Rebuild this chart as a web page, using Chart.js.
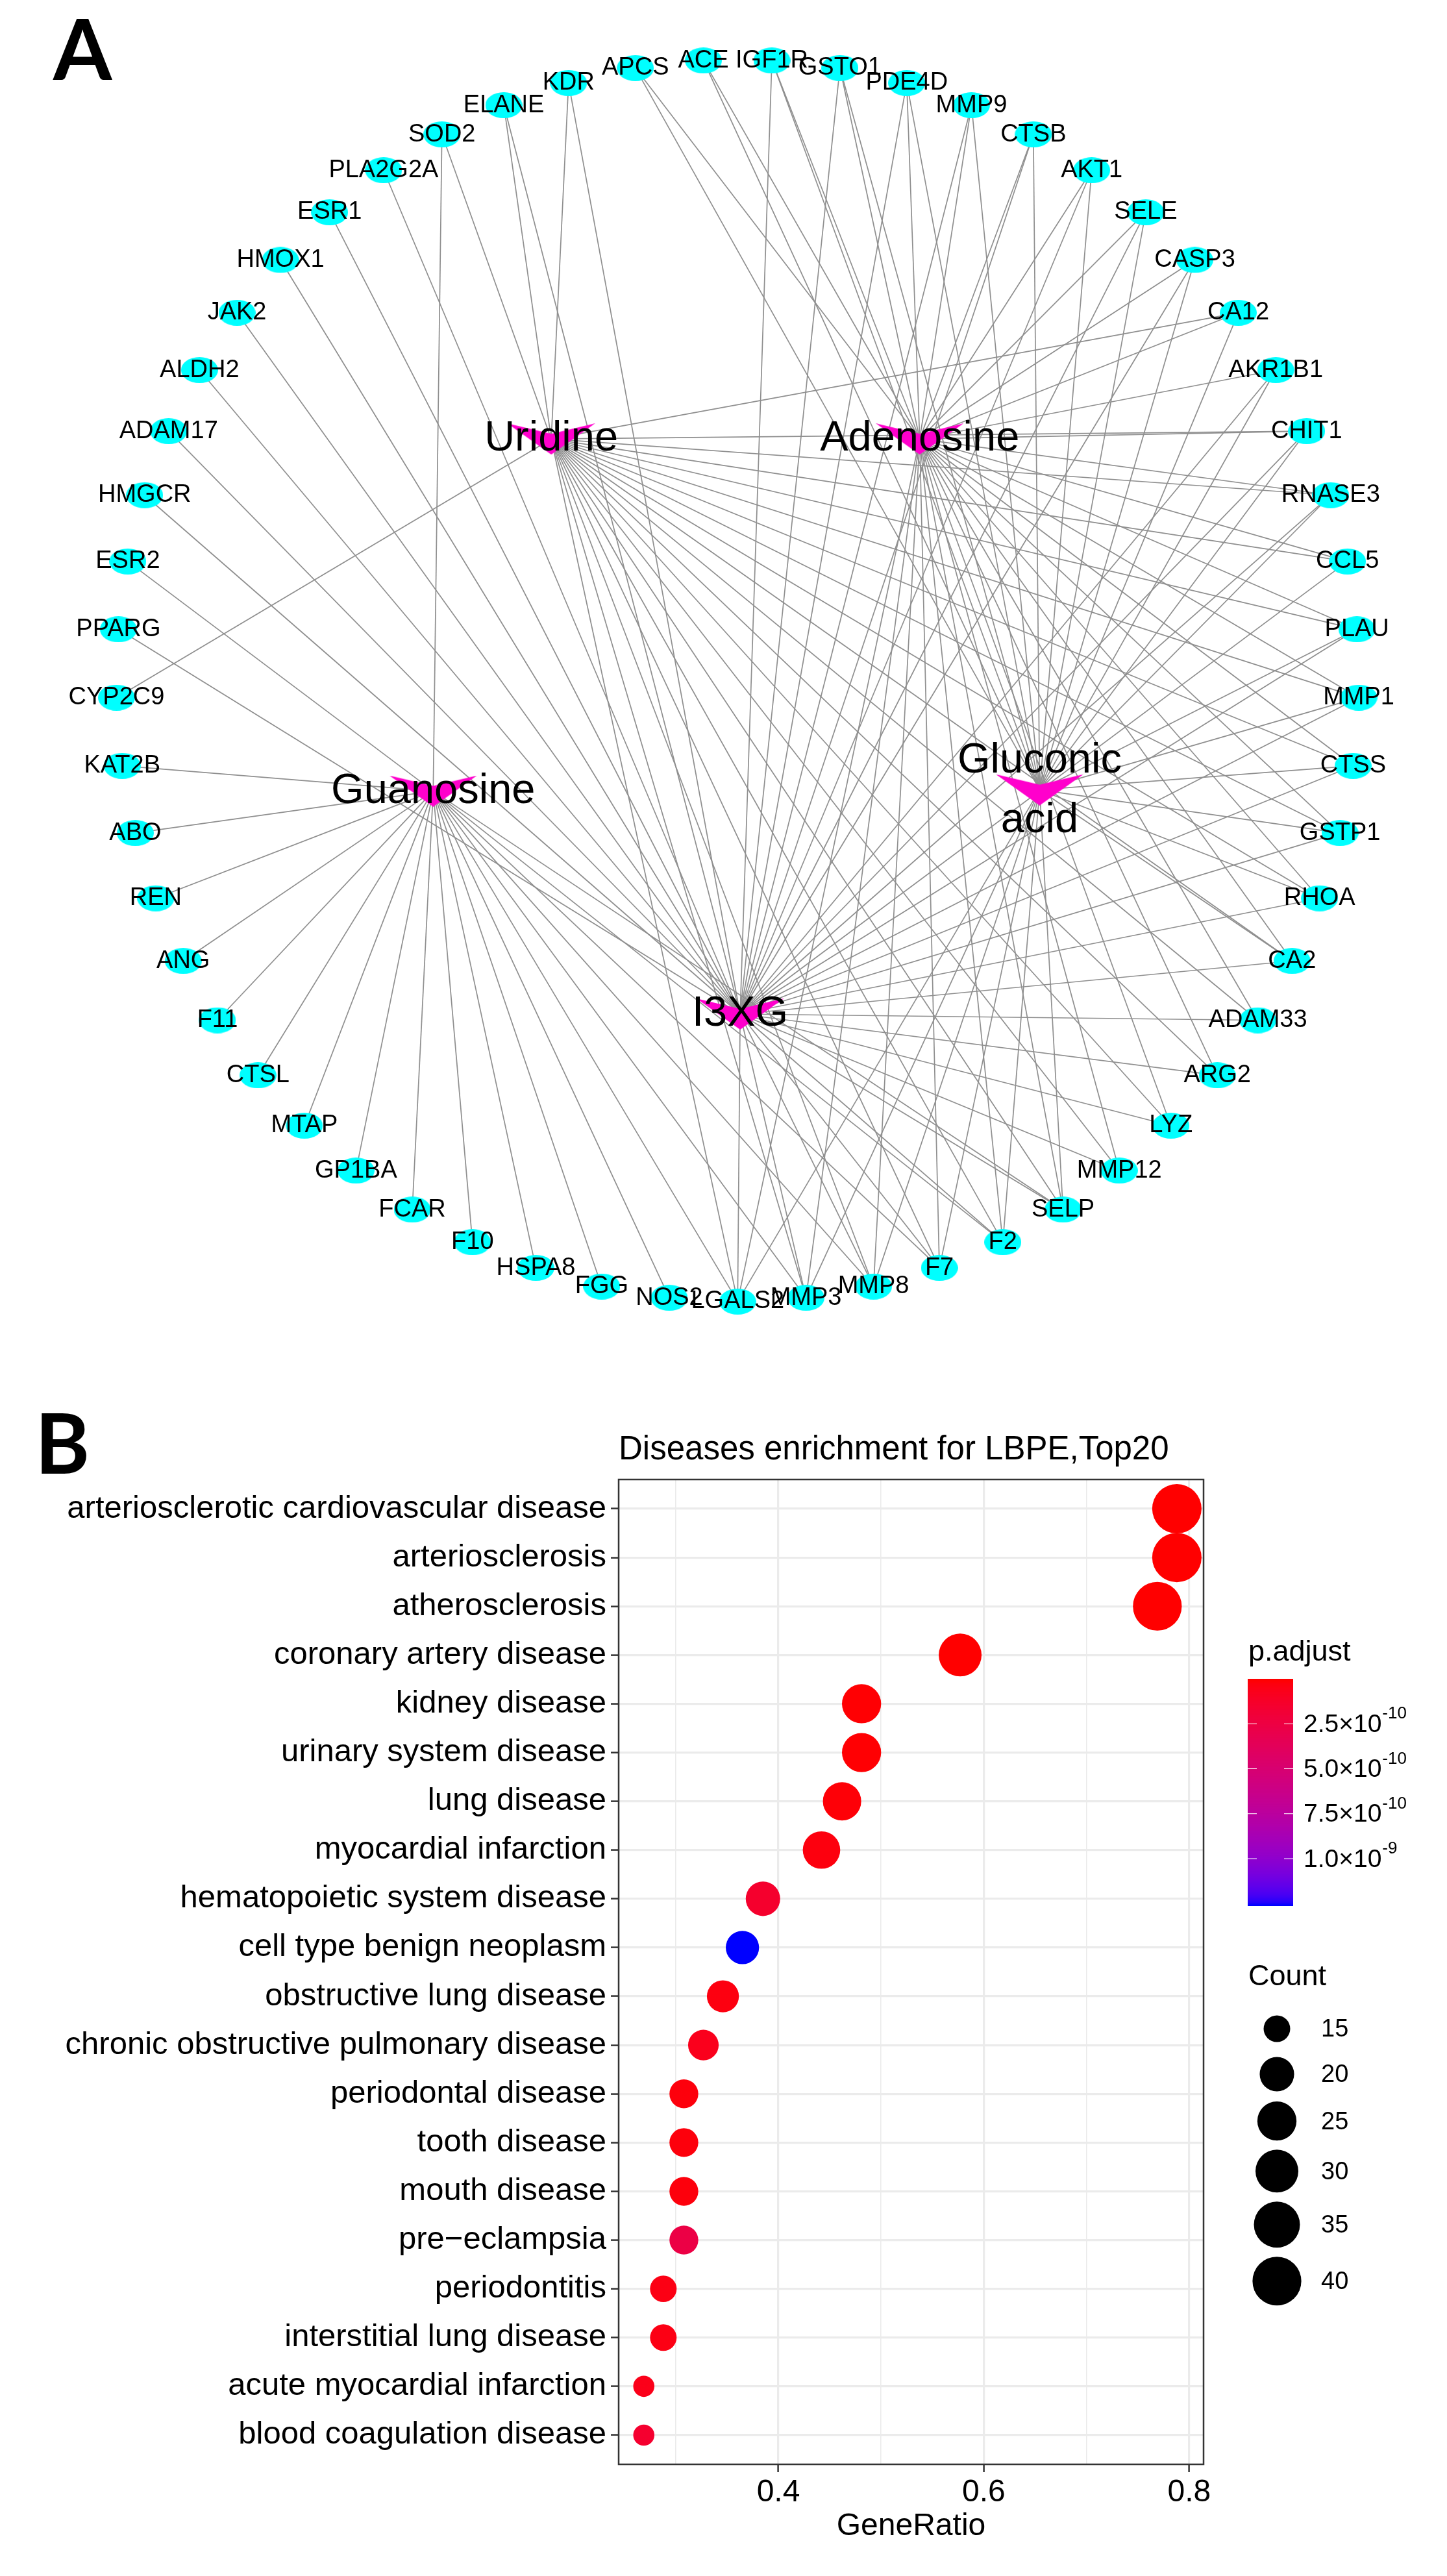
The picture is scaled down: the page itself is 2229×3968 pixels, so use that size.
<!DOCTYPE html>
<html>
<head>
<meta charset="utf-8">
<script src="https://cdn.jsdelivr.net/npm/chart.js@4.4.1/dist/chart.umd.min.js"></script>
<style>
  html, body { margin: 0; background: #fff; }
  #netChart { position: absolute; left: 0; top: 0; }
  #dotChart { position: absolute; left: 0; top: 2100px; }
</style>
</head>
<body>
<canvas id="netChart" width="2229" height="2100"></canvas>
<canvas id="dotChart" width="2229" height="1868"></canvas>
<script>
// ---------- Panel A : compound - target network ----------
// targets in circle order, clockwise from the top
const targets = ["ACE","IGF1R","GSTO1","PDE4D","MMP9","CTSB","AKT1","SELE","CASP3","CA12",
  "AKR1B1","CHIT1","RNASE3","CCL5","PLAU","MMP1","CTSS","GSTP1","RHOA","CA2",
  "ADAM33","ARG2","LYZ","MMP12","SELP","F2","F7","MMP8","MMP3","LGALS2",
  "NOS2","FGG","HSPA8","F10","FCAR","GP1BA","MTAP","CTSL","F11","ANG",
  "REN","ABO","KAT2B","CYP2C9","PPARG","ESR2","HMGCR","ADAM17","ALDH2","JAK2",
  "HMOX1","ESR1","PLA2G2A","SOD2","ELANE","KDR","APCS"];

// compounds (hub nodes) and their layout position (circle radius = 1)
const compounds = ["Uridine","Adenosine","Guanosine","Gluconic acid","I3XG"];
const compoundKeys = ["U","A","G","GA","I"];
const compoundX = [-0.300, 0.293, -0.490, 0.486, 0.004];
const compoundY = [0.389, 0.389, -0.178, -0.176, -0.537];

// which compounds each target is linked to (same order as targets)
const targetLinks = ["A GA","A GA I","A GA I","A GA I","A GA I","A GA I","A GA I","A GA I","A GA I","U A GA",
  "A GA I","U A GA I","U A GA I","U A I","U A GA I","U A GA I","U A GA I","U A GA I","U A GA I","U A GA I",
  "U A I","U A I","U A I","U A I","U A G GA I","U A G GA I","U A G GA I","U A G GA I","U A G GA I","U A G GA I",
  "G","G","G","G","G","G","G","G","G","G",
  "G","G","G","U","I","G","I","I","I","I",
  "I","I","I","U G","U I","U I","A GA"];

// circular layout for the targets
const targetPos = targets.map((t, i) => {
  const a = (i - 0.5) * 2 * Math.PI / targets.length;
  return { x: Math.sin(a), y: Math.cos(a) };
});
const compoundPos = compounds.map((c, i) => ({ x: compoundX[i], y: compoundY[i] }));

// node shapes
function makeEllipse(w, h, color) {
  const c = document.createElement("canvas");
  c.width = w; c.height = h;
  const g = c.getContext("2d");
  g.fillStyle = color;
  g.beginPath();
  g.ellipse(w / 2, h / 2, w / 2, h / 2, 0, 0, 2 * Math.PI);
  g.fill();
  return c;
}
function makeVee(w, h, color) {
  const c = document.createElement("canvas");
  c.width = w; c.height = h;
  const g = c.getContext("2d");
  g.fillStyle = color;
  g.beginPath();
  g.moveTo(0, 0);
  g.lineTo(w / 2, h / 3);
  g.lineTo(w, 0);
  g.lineTo(w / 2, h);
  g.closePath();
  g.fill();
  return c;
}
const targetShape = makeEllipse(57, 40, "#00FFFF");
const compoundShape = makeVee(135, 48, "#FF00CC");

// one line dataset per edge
const edgeSets = [];
targets.forEach((t, i) => {
  targetLinks[i].split(" ").forEach(k => {
    const j = compoundKeys.indexOf(k);
    edgeSets.push({
      data: [targetPos[i], compoundPos[j]],
      showLine: true,
      borderColor: "#8f8f8f",
      borderWidth: 1.7,
      pointRadius: 0,
      order: 3
    });
  });
});

const netLabels = {
  id: "netLabels",
  afterDatasetsDraw(chart) {
    const ctx = chart.ctx;
    const xs = chart.scales.x, ys = chart.scales.y;
    ctx.save();
    ctx.fillStyle = "#000";
    ctx.textAlign = "center";
    ctx.textBaseline = "middle";
    ctx.font = "38px 'Liberation Sans', Arial, sans-serif";
    targets.forEach((name, i) => {
      ctx.fillText(name, xs.getPixelForValue(targetPos[i].x), ys.getPixelForValue(targetPos[i].y));
    });
    ctx.font = "65px 'Liberation Sans', Arial, sans-serif";
    compounds.forEach((name, i) => {
      const px = xs.getPixelForValue(compoundPos[i].x);
      const py = ys.getPixelForValue(compoundPos[i].y);
      const parts = name.split(" ");
      if (parts.length === 2) {
        ctx.fillText(parts[0], px, py - 45);
        ctx.fillText(parts[1], px, py + 47);
      } else {
        ctx.fillText(name, px, py);
      }
    });
    ctx.textAlign = "left";
    ctx.textBaseline = "alphabetic";
    ctx.font = "bold 130px Lato, 'Open Sans', sans-serif";
    ctx.fillText("A", 82, 123);
    ctx.restore();
  }
};

new Chart(document.getElementById("netChart"), {
  type: "scatter",
  data: {
    datasets: [
      ...edgeSets,
      { data: targetPos, pointStyle: targetShape, pointRadius: 10, order: 1 },
      { data: compoundPos, pointStyle: compoundShape, pointRadius: 10, order: 0 }
    ]
  },
  options: {
    responsive: false,
    devicePixelRatio: 1,
    animation: false,
    events: [],
    layout: { padding: 0 },
    plugins: { legend: { display: false }, tooltip: { enabled: false } },
    scales: {
      x: { type: "linear", display: false, min: -1.17565, max: 1.13013 },
      y: { type: "linear", display: false, min: -1.08793, max: 1.08441 }
    }
  },
  plugins: [netLabels]
});

// ---------- Panel B : disease enrichment dot plot ----------
const diseases = ["arteriosclerotic cardiovascular disease","arteriosclerosis","atherosclerosis",
  "coronary artery disease","kidney disease","urinary system disease","lung disease",
  "myocardial infarction","hematopoietic system disease","cell type benign neoplasm",
  "obstructive lung disease","chronic obstructive pulmonary disease","periodontal disease",
  "tooth disease","mouth disease","pre\u2212eclampsia","periodontitis","interstitial lung disease",
  "acute myocardial infarction","blood coagulation disease"];
const geneRatio = [0.788, 0.788, 0.769, 0.577, 0.481, 0.481, 0.462, 0.442, 0.385, 0.365,
  0.346, 0.327, 0.308, 0.308, 0.308, 0.308, 0.288, 0.288, 0.269, 0.269];
const counts = [41, 41, 40, 30, 25, 25, 24, 23, 20, 19, 18, 17, 16, 16, 16, 16, 15, 15, 14, 14];
const pAdjust = [1.1e-19, 1.1e-19, 3.6e-19, 1.9e-14, 6.5e-12, 6.5e-12, 1.4e-11, 2.9e-11, 1.4e-10, 1.26e-9,
  3.3e-11, 6.8e-11, 2.3e-11, 2.3e-11, 2.3e-11, 2.6e-10, 4.5e-11, 4.5e-11, 6.0e-11, 1.5e-10];
const pTicks = [2.5e-10, 5.0e-10, 7.5e-10, 1.0e-9];
const pTickMant = ["2.5", "5.0", "7.5", "1.0"];
const pTickExp = ["-10", "-10", "-10", "-9"];
const sizeBreaks = [15, 20, 25, 30, 35, 40];
const xTicks = [0.4, 0.6, 0.8];

const FONT = "'Liberation Sans', Arial, sans-serif";

// size scale (area), like ggplot scale_size
const cMin = Math.min(...counts), cMax = Math.max(...counts);
function sizeOf(c) {
  return 16.3 + 21.7 * Math.sqrt((c - cMin) / (cMax - cMin));
}

// colour scale red -> blue interpolated in Lab
function toLab(rgb) {
  const lin = c => { c /= 255; return c <= 0.04045 ? c / 12.92 : Math.pow((c + 0.055) / 1.055, 2.4); };
  const R = lin(rgb[0]), G = lin(rgb[1]), B = lin(rgb[2]);
  const X = (0.4124 * R + 0.3576 * G + 0.1805 * B) / 0.95047;
  const Y = 0.2126 * R + 0.7152 * G + 0.0722 * B;
  const Z = (0.0193 * R + 0.1192 * G + 0.9505 * B) / 1.08883;
  const f = t => t > 0.008856 ? Math.cbrt(t) : 7.787 * t + 16 / 116;
  return [116 * f(Y) - 16, 500 * (f(X) - f(Y)), 200 * (f(Y) - f(Z))];
}
function fromLab(lab) {
  const fy = (lab[0] + 16) / 116, fx = fy + lab[1] / 500, fz = fy - lab[2] / 200;
  const inv = t => t * t * t > 0.008856 ? t * t * t : (t - 16 / 116) / 7.787;
  const X = inv(fx) * 0.95047, Y = inv(fy), Z = inv(fz) * 1.08883;
  const R = 3.2406 * X - 1.5372 * Y - 0.4986 * Z;
  const G = -0.9689 * X + 1.8758 * Y + 0.0415 * Z;
  const B = 0.0557 * X - 0.2040 * Y + 1.0570 * Z;
  const gam = c => {
    c = c <= 0.0031308 ? 12.92 * c : 1.055 * Math.pow(c, 1 / 2.4) - 0.055;
    return Math.round(Math.max(0, Math.min(1, c)) * 255);
  };
  return "rgb(" + gam(R) + "," + gam(G) + "," + gam(B) + ")";
}
const labLow = toLab([255, 0, 0]), labHigh = toLab([0, 0, 255]);
const pMin = Math.min(...pAdjust), pMax = Math.max(...pAdjust);
function colorAt(t) {
  return fromLab(labLow.map((v, k) => v + (labHigh[k] - v) * t));
}
function colorOf(p) {
  return colorAt((p - pMin) / (pMax - pMin));
}

const isMajor = v => Math.round(v * 10) % 2 === 0;

const dotDecor = {
  id: "dotDecor",
  afterDatasetsDraw(chart) {
    const ctx = chart.ctx;
    const area = chart.chartArea;
    ctx.save();
    // panel border
    ctx.strokeStyle = "#333";
    ctx.lineWidth = 2.5;
    ctx.strokeRect(area.left, area.top, area.right - area.left, area.bottom - area.top);

    ctx.fillStyle = "#000";
    // title
    ctx.textAlign = "left";
    ctx.textBaseline = "alphabetic";
    ctx.font = "51px " + FONT;
    ctx.fillText("Diseases enrichment for LBPE,Top20", area.left, 148);
    // x axis title
    ctx.textAlign = "center";
    ctx.textBaseline = "middle";
    ctx.font = "48px " + FONT;
    ctx.fillText("GeneRatio", (area.left + area.right) / 2, 1792);

    // colour bar legend
    const barL = 1922, barW = 70, barT = 486, barH = 349;
    ctx.textAlign = "left";
    ctx.font = "45px " + FONT;
    ctx.fillText("p.adjust", 1923, 446);
    const n = 300;
    for (let k = 0; k < n; k++) {
      ctx.fillStyle = colorAt(k / (n - 1));
      ctx.fillRect(barL, barT + k * barH / n, barW, barH / n + 1);
    }
    ctx.strokeStyle = "#fff";
    ctx.lineWidth = 1.2;
    pTicks.forEach((p, i) => {
      const y = barT + (p - pMin) / (pMax - pMin) * barH;
      ctx.beginPath();
      ctx.moveTo(barL, y); ctx.lineTo(barL + 14, y);
      ctx.moveTo(barL + barW - 14, y); ctx.lineTo(barL + barW, y);
      ctx.stroke();
      ctx.fillStyle = "#000";
      ctx.font = "39px " + FONT;
      const mant = pTickMant[i] + "\u00D710";
      ctx.fillText(mant, 2008, y + 2);
      const w = ctx.measureText(mant).width;
      ctx.font = "26px " + FONT;
      ctx.fillText(pTickExp[i], 2008 + w + 1, y - 15);
    });

    // size legend
    ctx.fillStyle = "#000";
    ctx.font = "45px " + FONT;
    ctx.fillText("Count", 1923, 946);
    let y = 1025;
    let prevH = null;
    sizeBreaks.forEach(c => {
      const r = sizeOf(c);
      const h = Math.max(70, 2 * r + 14);
      if (prevH !== null) y += (prevH + h) / 2;
      prevH = h;
      ctx.beginPath();
      ctx.arc(1967, y, r, 0, 2 * Math.PI);
      ctx.fill();
      ctx.font = "38px " + FONT;
      ctx.fillText(String(c), 2035, y + 2);
    });

    // panel letter
    ctx.textBaseline = "alphabetic";
    ctx.font = "bold 128px Lato, 'Open Sans', sans-serif";
    ctx.fillText("B", 54, 170);
    ctx.restore();
  }
};

new Chart(document.getElementById("dotChart"), {
  type: "bubble",
  data: {
    datasets: [{
      data: diseases.map((d, i) => ({ x: geneRatio[i], y: i + 1, r: sizeOf(counts[i]) })),
      backgroundColor: pAdjust.map(colorOf),
      borderWidth: 0,
      hoverRadius: 0
    }]
  },
  options: {
    responsive: false,
    devicePixelRatio: 1,
    animation: false,
    events: [],
    layout: { padding: { top: 179, right: 375, left: 0, bottom: 0 } },
    plugins: { legend: { display: false }, tooltip: { enabled: false } },
    scales: {
      x: {
        type: "linear",
        min: 0.2445,
        max: 0.814,
        afterFit: s => { s.height = 172; },
        border: { display: false },
        ticks: {
          stepSize: 0.1,
          includeBounds: false,
          autoSkip: false,
          maxRotation: 0,
          color: "#000",
          font: { size: 48, family: FONT },
          padding: 3,
          callback: v => {
            const r = Math.round(v * 10) / 10;
            return xTicks.includes(r) ? r.toFixed(1) : "";
          }
        },
        grid: {
          color: "#EBEBEB",
          lineWidth: c => (c.tick && isMajor(c.tick.value)) ? 3.2 : 1.6,
          tickLength: 12,
          tickWidth: 2.5,
          tickColor: c => (c.tick && isMajor(c.tick.value)) ? "#333" : "rgba(0,0,0,0)"
        }
      },
      y: {
        type: "linear",
        reverse: true,
        min: 0.4,
        max: 20.6,
        afterFit: s => { s.width = 953; },
        border: { display: false },
        ticks: {
          stepSize: 1,
          includeBounds: false,
          autoSkip: false,
          color: "#000",
          font: { size: 49, family: FONT },
          padding: 7,
          callback: v => diseases[Math.round(v) - 1] || ""
        },
        grid: {
          color: "#EBEBEB",
          lineWidth: 3.2,
          tickLength: 12,
          tickWidth: 2.5,
          tickColor: "#333"
        }
      }
    }
  },
  plugins: [dotDecor]
});
</script>
</body>
</html>
